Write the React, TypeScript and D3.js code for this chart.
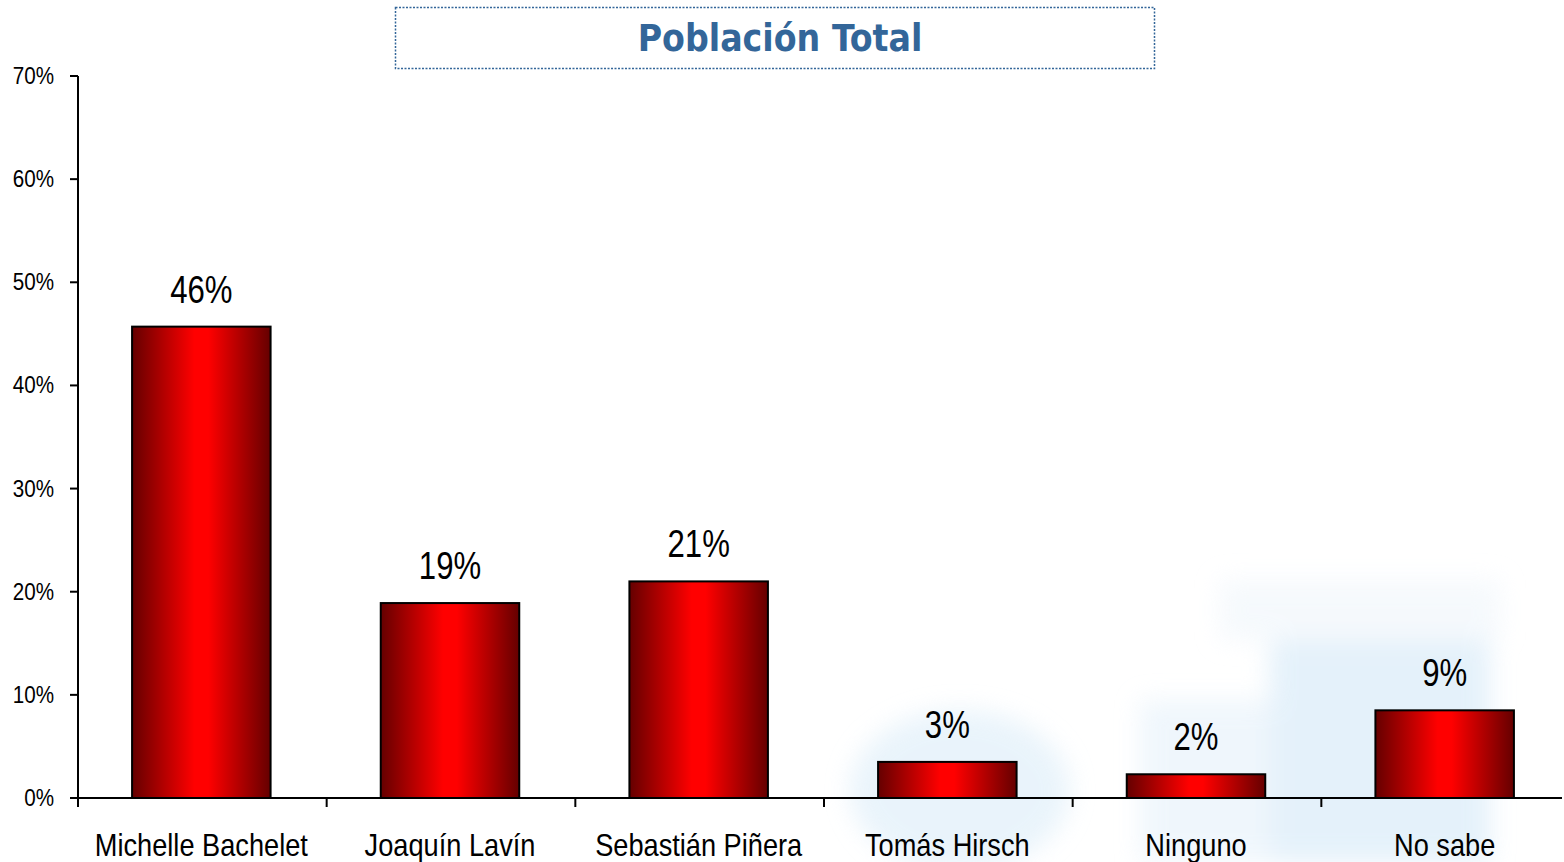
import React, { useEffect, useRef } from "react";
import * as d3 from "d3";

const categories = ["Michelle Bachelet", "Joaquín Lavín", "Sebastián Piñera", "Tomás Hirsch", "Ninguno", "No sabe"];
const values = [45.7, 18.9, 21.0, 3.5, 2.3, 8.5];
const valueLabels = ["46%", "19%", "21%", "3%", "2%", "9%"];
const yTicks = [0, 10, 20, 30, 40, 50, 60, 70];

const W = 1564;
const H = 862;
const sans = "'Liberation Sans', Arial, sans-serif";

export default function App() {
  const svgRef = useRef<SVGSVGElement>(null);

  useEffect(() => {
    if (!svgRef.current) return;
    const svg = d3.select(svgRef.current);
    svg.selectAll("*").remove();

    const left = 77, right = 1569, axisEnd = 1562, top = 76, bottom = 798;

    const x = d3.scaleBand<string>().domain(categories).range([left, right]).padding(0);
    const y = d3.scaleLinear().domain([0, 70]).range([bottom, top]);
    const barW = x.bandwidth() * 0.557;
    const cx = (d: string) => (x(d) as number) + x.bandwidth() / 2;

    const defs = svg.append("defs");
    const grad = defs.append("linearGradient").attr("id", "barGrad")
      .attr("x1", "0%").attr("x2", "100%").attr("y1", "0%").attr("y2", "0%");
    grad.append("stop").attr("offset", "0%").attr("stop-color", "#650000");
    grad.append("stop").attr("offset", "45%").attr("stop-color", "#ff0000");
    grad.append("stop").attr("offset", "55%").attr("stop-color", "#ff0000");
    grad.append("stop").attr("offset", "100%").attr("stop-color", "#650000");

    const blur = defs.append("filter").attr("id", "soft");
    blur.append("feGaussianBlur").attr("stdDeviation", 12);

    // faint watermark in background
    const wm = svg.append("g").attr("filter", "url(#soft)").attr("opacity", 0.55);
    wm.append("rect").attr("x", 1270).attr("y", 640).attr("width", 220).attr("height", 222).attr("fill", "#cfe6f7");
    wm.append("rect").attr("x", 1220).attr("y", 580).attr("width", 280).attr("height", 60).attr("fill", "#eef5fb");
    wm.append("ellipse").attr("cx", 960).attr("cy", 790).attr("rx", 110).attr("ry", 80).attr("fill", "#d8ebf8");
    wm.append("rect").attr("x", 1140).attr("y", 700).attr("width", 130).attr("height", 162).attr("fill", "#e3f0fa");

    // title box
    svg.append("rect")
      .attr("x", 395.5).attr("y", 7.5).attr("width", 759).attr("height", 61)
      .attr("fill", "white").attr("stroke", "#336699").attr("stroke-width", 1.5)
      .attr("stroke-dasharray", "2,1.5");
    svg.append("text")
      .attr("x", 780).attr("y", 51)
      .attr("text-anchor", "middle")
      .attr("fill", "#336699")
      .attr("font-size", "37px")
      .attr("font-weight", "bold")
      .attr("font-family", "'DejaVu Sans Condensed', 'DejaVu Sans', sans-serif")
      .attr("font-stretch", "condensed")
      .text("Población Total");

    // bars
    svg.selectAll(".bar")
      .data(categories)
      .enter()
      .append("rect")
      .attr("class", "bar")
      .attr("x", (d) => cx(d) - barW / 2)
      .attr("y", (d, i) => y(values[i]))
      .attr("width", barW)
      .attr("height", (d, i) => bottom - y(values[i]))
      .attr("fill", "url(#barGrad)")
      .attr("stroke", "#000")
      .attr("stroke-width", 2);

    // value labels (narrow look)
    svg.selectAll(".val")
      .data(categories)
      .enter()
      .append("text")
      .attr("transform", (d, i) => `translate(${cx(d)},${y(values[i]) - 24}) scale(0.82,1)`)
      .attr("text-anchor", "middle")
      .attr("font-size", "38px")
      .attr("font-family", sans)
      .attr("fill", "#000")
      .text((d, i) => valueLabels[i]);

    // y axis
    svg.append("line").attr("x1", left + 1).attr("x2", left + 1).attr("y1", top).attr("y2", bottom)
      .attr("stroke", "#000").attr("stroke-width", 2);
    const yt = svg.selectAll(".yt").data(yTicks).enter().append("g");
    yt.append("line").attr("x1", left - 7).attr("x2", left + 1).attr("y1", (d) => y(d)).attr("y2", (d) => y(d))
      .attr("stroke", "#000").attr("stroke-width", 2);
    yt.append("text")
      .attr("transform", (d) => `translate(54,${y(d) + 8}) scale(0.86,1)`)
      .attr("text-anchor", "end")
      .attr("font-size", "24px")
      .attr("font-family", sans)
      .attr("fill", "#000")
      .text((d) => `${d}%`);

    // x axis
    svg.append("line").attr("x1", left).attr("x2", axisEnd).attr("y1", bottom).attr("y2", bottom)
      .attr("stroke", "#000").attr("stroke-width", 2);
    const bounds = categories.map((c) => (x(c) as number) + 1);
    svg.selectAll(".xt").data(bounds).enter().append("line")
      .attr("x1", (d) => d).attr("x2", (d) => d).attr("y1", bottom).attr("y2", bottom + 9)
      .attr("stroke", "#000").attr("stroke-width", 2);
    svg.selectAll(".cat").data(categories).enter().append("text")
      .attr("transform", (d) => `translate(${cx(d)},856) scale(0.85,1)`)
      .attr("text-anchor", "middle")
      .attr("font-size", "32px")
      .attr("font-family", sans)
      .attr("fill", "#000")
      .text((d) => d);
  }, []);

  return (
    <div style={{ position: "absolute", left: 0, top: 0 }}>
      <svg ref={svgRef} width={W} height={H} style={{ display: "block", background: "#fff" }} />
    </div>
  );
}
